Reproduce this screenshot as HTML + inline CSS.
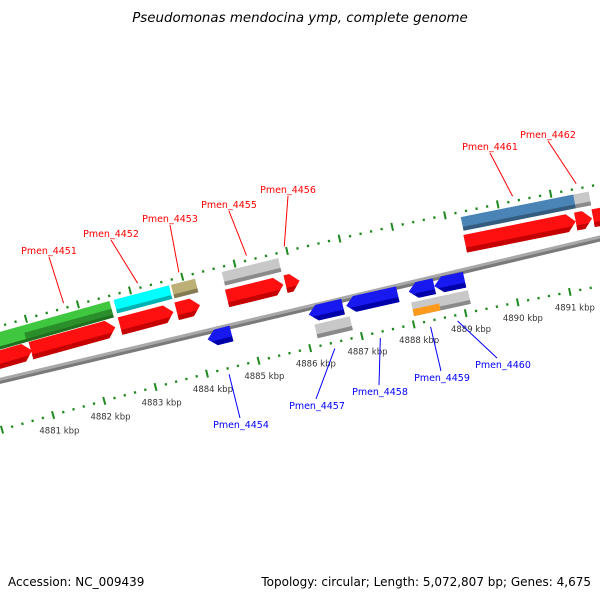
<!DOCTYPE html>
<html><head><meta charset="utf-8"><style>
html,body{margin:0;padding:0;background:#fff}
svg{display:block}
text{font-family:"DejaVu Sans","Liberation Sans",sans-serif}
</style></head><body>
<svg id="chart" width="600" height="600" viewBox="0 0 600 600" xmlns="http://www.w3.org/2000/svg">
<text x="300" y="22" text-anchor="middle" font-size="13.4" font-style="italic" fill="#000">Pseudomonas mendocina ymp, complete genome</text>
<text x="8" y="586" font-size="12" fill="#000">Accession: NC_009439</text>
<text x="591" y="586" text-anchor="end" font-size="12" fill="#000">Topology: circular; Length: 5,072,807 bp; Genes: 4,675</text>
<g id="plot"></g>
</svg>
<script>
// ---- data (kbp) ----
const tickStart = 4879.6, tickEnd = 4892.8, tickStep = 0.2;
const tickLabels = [4881,4882,4883,4884,4885,4886,4887,4888,4889,4890,4891];
const fwdStarts = [4879.4,4880.93,4882.65,4883.74,4884.71,4885.83,4889.26,4891.36,4891.69];
const fwdEnds   = [4880.95,4882.56,4883.68,4884.19,4885.79,4886.10,4891.36,4891.67,4892.6];
const boxStarts = [4882.66,4883.76,4884.73,4889.28,4891.41];
const boxEnds   = [4883.72,4884.22,4885.81,4891.41,4891.70];
const boxColors = ['#00ffff','#bdb076','#c8c8c8','#4a84b6','#c8c8c8'];
const greenStart = 4879.4, greenEnd = 4882.58, darkGreenStart = 4880.9;
const revStarts = [4884.17,4886.12,4886.84,4888.04,4888.53];
const revEnds   = [4884.63,4886.78,4887.83,4888.53,4889.11];
const lowBoxStarts = [4886.18,4888.04];
const lowBoxEnds   = [4886.86,4889.13];
const orangeStart = 4888.04, orangeEnd = 4888.55;
const fwdLabels = ['Pmen_4451','Pmen_4452','Pmen_4453','Pmen_4455','Pmen_4456','Pmen_4461','Pmen_4462'];
const fwdLabelK = [4881.75,4883.17,4883.96,4885.25,4885.97,4890.3,4891.5];
const revLabels = ['Pmen_4454','Pmen_4457','Pmen_4458','Pmen_4459','Pmen_4460'];
const revLabelK = [4884.4,4886.45,4887.33,4888.3,4888.82];
// label layout (pixel anchors)
const fwdLabelPos = [[49,254],[111,237],[170,222],[229,208],[288,193],[490,150],[548,138]];
const revLabelPos = [[241,428],[317,409],[380,395],[442,381],[503,368]];

// ---- geometry ----
const CX=1810, CY=6644, RB=6522;
function th(k){return (-13.87+(k-4885)*0.4704)*Math.PI/180;}
function pt(k,r){const t=th(k);return [CX+r*Math.sin(t), CY-r*Math.cos(t)];}
const NS='http://www.w3.org/2000/svg';
const g=document.getElementById('plot');
function mk(tag,attrs){const e=document.createElementNS(NS,tag);for(const a in attrs)e.setAttribute(a,attrs[a]);g.appendChild(e);return e;}
function P(arr){return arr.map(p=>p[0].toFixed(2)+','+p[1].toFixed(2)).join(' ');}
function band(k1,k2,r1,r2,fill,name){
  const e=mk('polygon',{points:P([pt(k1,r1),pt(k1,r2),pt(k2,r2),pt(k2,r1)]),fill:fill});
  
  
  return e;
}
function arrow(k1,k2,r1,r2,dir,fill,dark,name){
  const h=0.16, rm=(r1+r2)/2;
  let pts;
  if(dir>0){const kb=Math.max(k1,k2-h);pts=[pt(k1,r1),pt(k1,r2),pt(kb,r2),pt(k2,rm),pt(kb,r1)];}
  else{const kb=Math.min(k2,k1+h);pts=[pt(k2,r1),pt(k2,r2),pt(kb,r2),pt(k1,rm),pt(kb,r1)];}
  const e=mk('polygon',{points:P(pts),fill:fill});
  
  
  let sp;
  const rs=r1+5;
  if(dir>0){const kb=Math.max(k1,k2-h);const f=(rs-r1)/(rm-r1);const kt=kb+(k2-kb)*f;sp=[pt(k1,r1),pt(k1,rs),pt(kt,rs),pt(kb,r1)];}
  else{const kb=Math.min(k2,k1+h);const f=(rs-r1)/(rm-r1);const kt=kb-(kb-k1)*f;sp=[pt(k2,r1),pt(k2,rs),pt(kt,rs),pt(kb,r1)];}
  const d=mk('polygon',{points:P(sp),fill:dark});
  
  
}

// backbone
band(4879.3,4892.9,RB-3,RB+3,'#a8a8a8','backbone');
band(4879.3,4892.9,RB-3,RB,'#7a7a7a','backbone-shade');

// tick rings
for(let i=0;i<=Math.round((tickEnd-tickStart)/tickStep);i++){
  const k=tickStart+i*tickStep;
  const major=Math.abs(k-Math.round(k))<0.01;
  [RB+50,RB-50].forEach((r,j)=>{
    const len=major?4:1.2;
    const a=pt(k,r-len),b=pt(k,r+len);
    const l=mk('line',{x1:a[0],y1:a[1],x2:b[0],y2:b[1],stroke:'#1f8a1f','stroke-width':major?2:2.2});
    
    
  });
}
tickLabels.forEach(k=>{
  const p=pt(k,RB-66);
  const t=mk('text',{x:p[0]+2,y:p[1]+3,'text-anchor':'middle','font-size':'8.5',fill:'#333'});
  t.textContent=k+' kbp';
  
  
});

// green features
band(greenStart,greenEnd,RB+28,RB+45,'#3fc73f','gene-green');
band(darkGreenStart,greenEnd,RB+28,RB+37,'#2a8f2a','gene-dark-green');
band(greenStart,greenEnd,RB+28,RB+31,'#1f6f1f','gene-green-shade');

// upper feature boxes
boxStarts.forEach((s,i)=>{
  band(s,boxEnds[i],RB+31,RB+45,boxColors[i],'feature-box');
  band(s,boxEnds[i],RB+31,RB+35,'rgba(0,0,0,0.3)','feature-box-shade');
});
// forward genes
fwdStarts.forEach((s,i)=>arrow(s,fwdEnds[i],RB+9,RB+27,1,'#ff1010','#c40000','forward-gene'));
// reverse genes
revStarts.forEach((s,i)=>arrow(s,revEnds[i],RB-25,RB-9,-1,'#1818f0','#0000a8','reverse-gene'));
// lower boxes
lowBoxStarts.forEach((s,i)=>{
  band(s,lowBoxEnds[i],RB-42,RB-28,'#c8c8c8','lower-feature-box');
  band(s,lowBoxEnds[i],RB-42,RB-38,'#8a8a8a','lower-feature-box-shade');
});
band(orangeStart,orangeEnd,RB-42,RB-35,'#ff9a1a','orange-feature');

// labels
fwdLabels.forEach((name,i)=>{
  const a=pt(fwdLabelK[i],RB+55), p=fwdLabelPos[i];
  const l=mk('line',{x1:p[0],y1:p[1]+3,x2:a[0],y2:a[1],stroke:'#ff0000','stroke-width':1});
  
  
  const t=mk('text',{x:p[0],y:p[1],'text-anchor':'middle','font-size':'9.5',fill:'#ff0000'});
  t.textContent=name;
  
  
});
revLabels.forEach((name,i)=>{
  const a=pt(revLabelK[i],RB-56), p=revLabelPos[i];
  const l=mk('line',{x1:a[0],y1:a[1],x2:p[0]-(i==4?6:1),y2:p[1]-10,stroke:'#0000ff','stroke-width':1});
  
  
  const t=mk('text',{x:p[0],y:p[1],'text-anchor':'middle','font-size':'9.5',fill:'#0000ff'});
  t.textContent=name;
  
  
});
</script>
</body></html>
